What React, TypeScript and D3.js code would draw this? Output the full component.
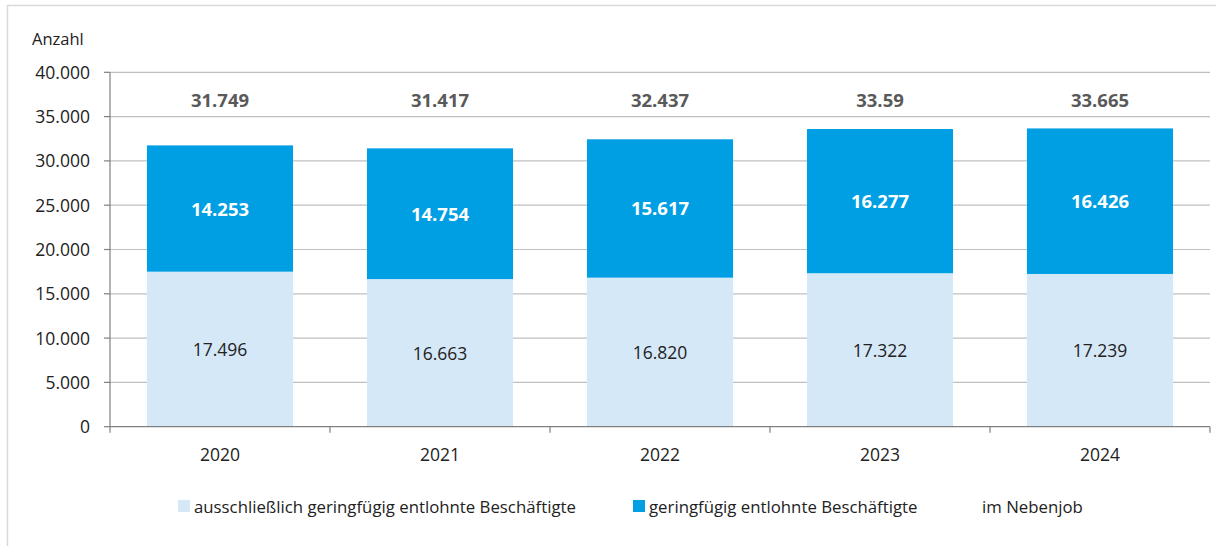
import React from "react";
import * as d3 from "d3";

const years = ["2020", "2021", "2022", "2023", "2024"];
const exclusive = [17496, 16663, 16820, 17322, 17239];
const sideJob = [14253, 14754, 15617, 16277, 16426];
const totalLabels = ["31.749", "31.417", "32.437", "33.59", "33.665"];
const yTicks = [0, 5000, 10000, 15000, 20000, 25000, 30000, 35000, 40000];
const legendLabels = [
  "ausschließlich geringfügig entlohnte Beschäftigte",
  "geringfügig entlohnte Beschäftigte",
  "im Nebenjob",
];

const W = 1216;
const H = 546;
const FONT = "'Open Sans', 'Noto Sans', sans-serif";
const LIGHT = "#d5e8f8";
const BLUE = "#009fe3";

const de = d3.formatLocale({ decimal: ",", thousands: ".", grouping: [3], currency: ["", " €"] });
const fmt = de.format(",d");

export default function App() {
  const left = 110;
  const right = 1210;
  const top = 72.3;
  const bottom = 426.7;
  const x = d3.scaleBand<string>().domain(years).range([left, right]).paddingInner(0.336).paddingOuter(0.168);
  const y = d3.scaleLinear().domain([0, 40000]).range([bottom, top]);
  const band = d3.scaleBand<string>().domain(years).range([left, right]);

  const legendX = [178, 633, 966];
  const legendColors = [LIGHT, BLUE, "#ffffff"];

  return (
    <svg width={W} height={H} style={{ position: "absolute", left: 0, top: 0 }} fontFamily={FONT}>
      <rect x={0} y={0} width={W} height={H} fill="#fff" />
      <rect x={7.5} y={5.5} width={W + 20} height={H + 20} fill="none" stroke="#d9d9d9" strokeWidth={1.5} />
      <text x={32} y={45} fontSize={16.5} fill="#222">Anzahl</text>
      {yTicks.map((t) => (
        <g key={t}>
          {t > 0 && <line x1={left} x2={right} y1={y(t)} y2={y(t)} stroke="#c0c0c0" strokeWidth={1.2} />}
          <line x1={left - 6} x2={left} y1={y(t)} y2={y(t)} stroke="#808080" strokeWidth={1.2} />
          <text x={90} y={y(t) + 6.5} fontSize={17.5} textAnchor="end" fill="#222">{fmt(t)}</text>
        </g>
      ))}
      {years.map((yr, i) => {
        const bx = x(yr)!;
        const bw = x.bandwidth();
        const cx = bx + bw / 2;
        const y0 = y(0);
        const y1 = y(exclusive[i]);
        const y2 = y(exclusive[i] + sideJob[i]);
        return (
          <g key={yr}>
            <rect x={bx} y={y1} width={bw} height={y0 - y1} fill={LIGHT} />
            <rect x={bx} y={y2} width={bw} height={y1 - y2} fill={BLUE} />
            <text x={cx} y={(y0 + y1) / 2 + 7} fontSize={17.5} textAnchor="middle" fill="#222">{fmt(exclusive[i])}</text>
            <text x={cx} y={(y1 + y2) / 2 + 7} fontSize={18.5} fontWeight="bold" textAnchor="middle" fill="#fff">{fmt(sideJob[i])}</text>
            <text x={cx} y={106.5} fontSize={18.5} fontWeight="bold" textAnchor="middle" fill="#595959">{totalLabels[i]}</text>
            <text x={cx} y={461} fontSize={17.5} textAnchor="middle" fill="#222">{yr}</text>
          </g>
        );
      })}
      <line x1={left} x2={left} y1={top} y2={bottom} stroke="#808080" strokeWidth={1.2} />
      <line x1={left} x2={right} y1={bottom} y2={bottom} stroke="#808080" strokeWidth={1.2} />
      {[...years.map((yr) => band(yr)!), right].map((tx, i) => (
        <line key={i} x1={tx} x2={tx} y1={bottom} y2={bottom + 6} stroke="#808080" strokeWidth={1.2} />
      ))}
      {legendLabels.map((l, i) => (
        <g key={l}>
          <rect x={legendX[i]} y={500} width={12} height={12} fill={legendColors[i]} />
          <text x={legendX[i] + 16} y={512.5} fontSize={16.8} fill="#222">{l}</text>
        </g>
      ))}
    </svg>
  );
}
